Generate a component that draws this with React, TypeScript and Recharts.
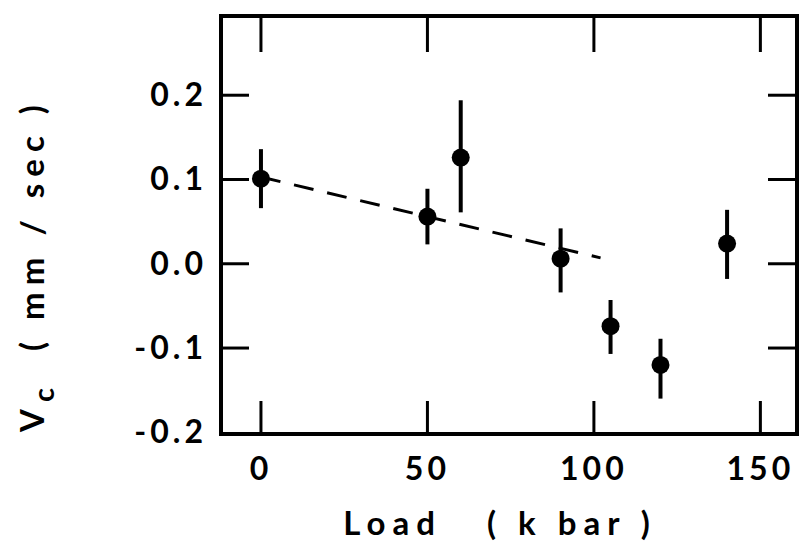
import {
  ComposedChart,
  Scatter,
  ErrorBar,
  XAxis,
  YAxis,
  ReferenceLine,
  ReferenceArea,
} from "recharts";

// Load (kbar) vs. Vc (mm/sec), with vertical error ranges
const loads = [0, 50, 60, 90, 105, 120, 140];
const velocities = [0.101, 0.056, 0.126, 0.006, -0.074, -0.12, 0.024];
const errLow = [0.035, 0.033, 0.065, 0.04, 0.033, 0.04, 0.042];
const errHigh = [0.035, 0.033, 0.068, 0.036, 0.031, 0.031, 0.04];

// dashed trend line ends
const trendLoads = [0, 102];
const trendVelocities = [0.103, 0.007];

const xTicks = [0, 50, 100, 150];
const yTicks = [-0.2, -0.1, 0, 0.1, 0.2];
const xDomain = [-12, 161];
const yDomain = [-0.202, 0.294];

const points = loads.map((x, i) => ({
  x,
  y: velocities[i],
  err: [errLow[i], errHigh[i]],
}));

const trendSegment = trendLoads.map((x, i) => ({ x, y: trendVelocities[i] }));

// plot box in pixels (chart sits at the page origin)
const LEFT = 221;
const RIGHT = 797;
const TOP = 16;
const BOTTOM = 434;

const FONT = "Lato, 'DejaVu Sans', sans-serif";
const textProps = {
  fill: "#000",
  fontFamily: FONT,
  fontWeight: 700,
};

const XTick = (props: any) => {
  const cx = props.payload.coordinate;
  return (
    <g>
      <line x1={cx} x2={cx} y1={BOTTOM} y2={BOTTOM - 33} stroke="#000" strokeWidth={3} />
      <line x1={cx} x2={cx} y1={TOP} y2={TOP + 36} stroke="#000" strokeWidth={3} />
      <text x={cx} y={480} textAnchor="middle" fontSize={32} letterSpacing={4} {...textProps}>
        {props.payload.value}
      </text>
    </g>
  );
};

const YTick = (props: any) => {
  const cy = props.payload.coordinate;
  const v = props.payload.value as number;
  const label = (v < 0 ? "-" : "") + Math.abs(v).toFixed(1);
  const onEdge = Math.abs(cy - BOTTOM) < 4;
  return (
    <g>
      {!onEdge && (
        <>
          <line x1={LEFT} x2={LEFT + 28} y1={cy} y2={cy} stroke="#000" strokeWidth={3} />
          <line x1={RIGHT} x2={RIGHT - 29} y1={cy} y2={cy} stroke="#000" strokeWidth={3} />
        </>
      )}
      <text x={207} y={cy + 11} textAnchor="end" fontSize={32} letterSpacing={4} {...textProps}>
        {label}
      </text>
    </g>
  );
};

const YLabel = () => (
  <text
    x={44}
    y={265}
    transform="rotate(-90, 44, 265)"
    textAnchor="middle"
    fontSize={33}
    letterSpacing={7}
    style={{ whiteSpace: "pre" }}
    {...textProps}
  >
    V
    <tspan dy={10} fontSize={29}>c</tspan>
    <tspan dy={-10}>{"  ( mm / sec )"}</tspan>
  </text>
);

const XLabel = () => (
  <text
    x={500}
    y={535}
    textAnchor="middle"
    fontSize={33}
    letterSpacing={7}
    style={{ whiteSpace: "pre" }}
    {...textProps}
  >
    {"Load   ( k bar )"}
  </text>
);

const Dot = (props: any) => {
  const { cx, cy } = props;
  return <circle cx={cx} cy={cy} r={9} fill="#000" />;
};

export default function App() {
  return (
    <div style={{ position: "absolute", left: 0, top: 0, background: "#fff" }}>
      <ComposedChart
        width={806}
        height={550}
        margin={{ top: TOP, right: 806 - RIGHT, bottom: 0, left: 0 }}
      >
        <XAxis
          dataKey="x"
          type="number"
          domain={xDomain}
          ticks={xTicks}
          allowDataOverflow
          height={550 - BOTTOM}
          axisLine={false}
          tickLine={false}
          tick={<XTick />}
          label={{ content: () => <XLabel /> }}
        />
        <YAxis
          dataKey="y"
          type="number"
          domain={yDomain}
          ticks={yTicks}
          allowDataOverflow
          width={LEFT}
          axisLine={false}
          tickLine={false}
          tick={<YTick />}
          label={{ content: () => <YLabel /> }}
        />
        <ReferenceArea
          x1={xDomain[0]}
          x2={xDomain[1]}
          y1={yDomain[0]}
          y2={yDomain[1]}
          fill="none"
          fillOpacity={0}
          stroke="#000"
          strokeWidth={4}
          strokeOpacity={1}
        />
        <ReferenceLine
          segment={trendSegment}
          stroke="#000"
          strokeWidth={3}
          strokeDasharray="20 14"
        />
        <Scatter
          data={points}
          dataKey="y"
          shape={<Dot />}
          isAnimationActive={false}
        >
          <ErrorBar
            dataKey="err"
            direction="y"
            width={0}
            stroke="#000"
            strokeWidth={4}
            isAnimationActive={false}
          />
        </Scatter>
      </ComposedChart>
    </div>
  );
}
